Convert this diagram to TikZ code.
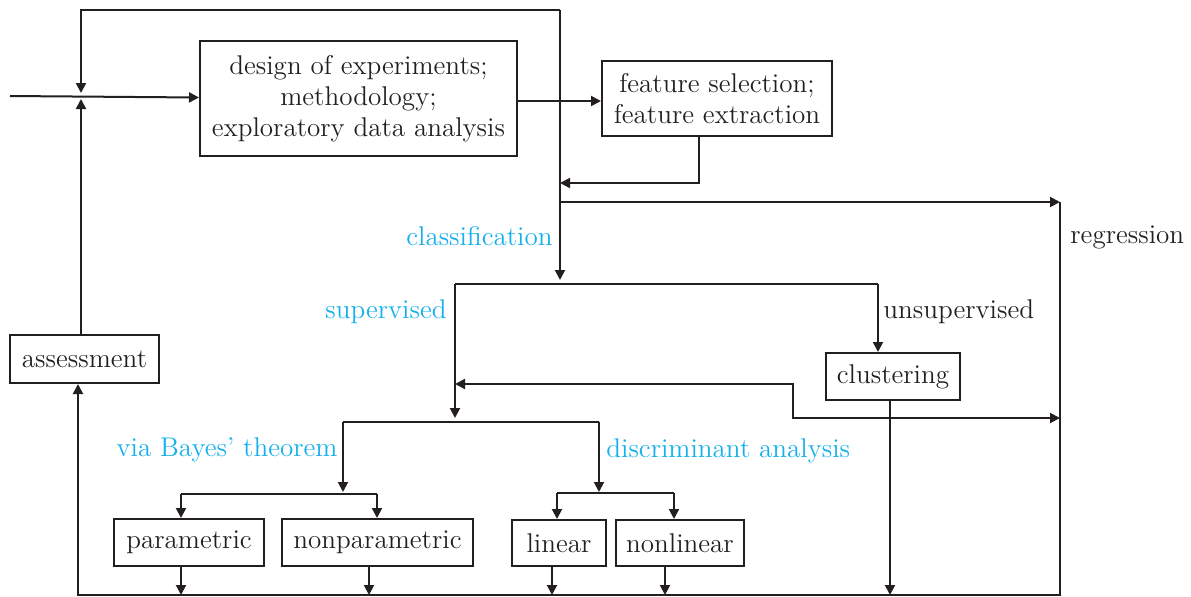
\documentclass[tikz,border=0pt]{standalone}
\usepackage{fontspec}
\usetikzlibrary{arrows.meta}
\definecolor{lblue}{RGB}{20,176,235}
\definecolor{ink}{RGB}{35,31,32}
\tikzset{
  every node/.style={font=\fontsize{13.55}{15.6}\selectfont, text=ink},
  box/.style={draw=ink, line width=1pt, align=center, inner sep=0pt},
  lbl/.style={inner sep=0pt},
  conn/.style={draw=ink, line width=1pt},
  arr/.style={conn, -{Triangle[length=5pt,width=5pt]}},
  darr/.style={conn, {Triangle[length=5pt,width=5pt]}-{Triangle[length=5pt,width=5pt]}},
  blue/.style={lbl, text=lblue},
}
\begin{document}
\begin{tikzpicture}[x=0.5pt, y=-0.5pt]
\useasboundingbox (0,0) rectangle (1191,596);
% boxes
\node[box, minimum width=158.5pt, minimum height=57.5pt] (design) at (358.5,98.5)
  {design of experiments;\\ methodology;\\ exploratory data analysis};
\node[box, minimum width=115pt, minimum height=37.5pt] (feature) at (717,98.5)
  {feature selection;\\ feature extraction};
\node[box, minimum width=74.5pt, minimum height=24pt] (assess) at (84.5,359) {assessment};
\node[box, minimum width=67pt, minimum height=23.5pt] (clust) at (893,376.5) {clustering};
\node[box, minimum width=75pt, minimum height=23.5pt] (param) at (189,542.5) {parametric};
\node[box, minimum width=95.5pt, minimum height=23.5pt] (nonparam) at (377.5,542.5) {nonparametric};
\node[box, minimum width=47pt, minimum height=23pt] (lin) at (559,543) {linear};
\node[box, minimum width=64pt, minimum height=23pt] (nonlin) at (680,543) {nonlinear};
% labels
\node[blue, anchor=east] (lclass) at (553,236) {classification};
\node[lbl, anchor=west] (lreg) at (1070,237) {regression};
\node[blue, anchor=east] (lsup) at (447,312) {supervised};
\node[lbl, anchor=west] (lunsup) at (883,312) {unsupervised};
\node[blue, anchor=east] (lbayes) at (338,450) {via Bayes' theorem};
\node[blue, anchor=west] (ldisc) at (606,451) {discriminant analysis};
% coordinates
\coordinate (in) at (10,96);
\coordinate (jtop) at (81,93);
\coordinate (jbot) at (81,99);
\coordinate (ttop) at (560,10);
\coordinate (tbot) at (560,280);
\coordinate (tfb) at (560,183);
\coordinate (treg) at (560,202);
\coordinate (rtop) at (1060,202);
\coordinate (rmid) at (1060,418);
\coordinate (rbot) at (1060,595);
\coordinate (lbot) at (78,595);
\coordinate (sl) at (455,284);
\coordinate (sr) at (878,284);
\coordinate (sarr) at (455,418);
\coordinate (semi) at (455,384);
\coordinate (bl) at (343,422);
\coordinate (br) at (599,422);
\coordinate (bla) at (343,492);
\coordinate (bra) at (599,492);
\coordinate (pl) at (181,494);
\coordinate (pr) at (377,494);
\coordinate (dl) at (557,493);
\coordinate (dr) at (674,493);
% connectors
\draw[arr] (in) -- (design.west |- 0,97.5);
\draw[arr] (ttop) -| (jtop);
\draw[arr] (assess.north -| jbot) -- (jbot);
\draw[conn] (ttop) -- (tfb);
\draw[arr] (tfb) -- (tbot);
\draw[arr] (design.east |- 0,101) -- (feature.west |- 0,101);
\draw[arr] (feature.south -| 699,0) |- (tfb);
\draw[arr] (treg) -- (rtop);
\draw[arr] (rtop) -- (rbot) -- (lbot) -- (assess.south -| lbot);
\draw[conn] (sl) -- (sr);
\draw[arr] (sl) -- (sarr);
\draw[arr] (sr) -- (clust.north -| sr);
\draw[darr] (semi) -- (793,384) -- (793,418) -- (rmid);
\draw[arr] (clust.south -| 890,0) -- (890,595);
\draw[conn] (bl) -- (br);
\draw[arr] (bl) -- (bla);
\draw[arr] (br) -- (bra);
\draw[conn] (pl) -- (pr);
\draw[arr] (pl) -- (param.north -| pl);
\draw[arr] (pr) -- (nonparam.north -| pr);
\draw[conn] (dl) -- (dr);
\draw[arr] (dl) -- (lin.north -| dl);
\draw[arr] (dr) -- (nonlin.north -| dr);
\draw[arr] (param.south -| 181,0) -- (181,595);
\draw[arr] (nonparam.south -| 369,0) -- (369,595);
\draw[arr] (lin.south -| 552,0) -- (552,595);
\draw[arr] (nonlin.south -| 665,0) -- (665,595);
\end{tikzpicture}
\end{document}
